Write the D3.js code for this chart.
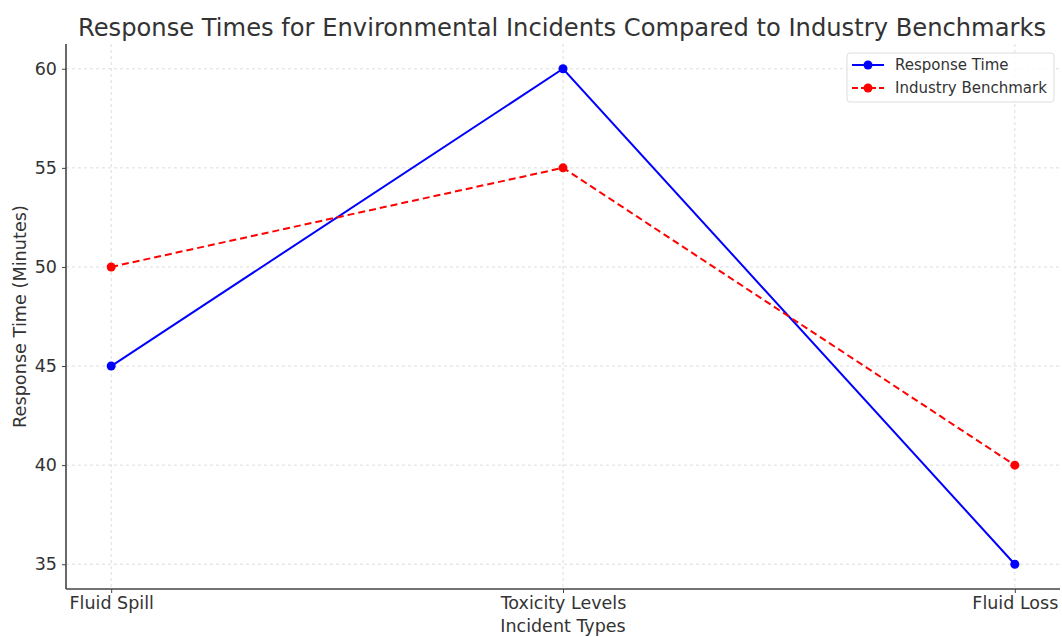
<!DOCTYPE html>
<html>
<head>
<meta charset="utf-8">
<script src="https://cdn.jsdelivr.net/npm/d3@7"></script>
<style>
  body { margin: 0; background: #fff; }
  svg { font-family: "DejaVu Sans", sans-serif; display: block; }
</style>
</head>
<body>
<div id="app"></div>
<script>
`use strict`;

const incidentTypes = [`Fluid Spill`, `Toxicity Levels`, `Fluid Loss`];
const responseTime = [45, 60, 35];
const industryBenchmark = [50, 55, 40];
const yTicks = [35, 40, 45, 50, 55, 60];

const W = 1062, H = 637;
const M = {left: 66, right: 2, top: 44, bottom: 48};

const SVG = d3.select(`#app`).append(`svg`).attr(`width`, W).attr(`height`, H);

const x = d3.scaleLinear().domain([-0.1, 2.1]).range([M.left, W - M.right]);
const y = d3.scaleLinear().domain([33.75, 61.25]).range([H - M.bottom, M.top]);

// grid
const grid = SVG.append(`g`).attr(`stroke`, `#d4d4d4`).attr(`stroke-dasharray`, `3,3`).attr(`stroke-width`, 0.8);
grid.selectAll(`.gy`).data(yTicks).enter().append(`line`)
  .attr(`x1`, M.left).attr(`x2`, W - M.right)
  .attr(`y1`, d => y(d)).attr(`y2`, d => y(d));
grid.selectAll(`.gx`).data(incidentTypes).enter().append(`line`)
  .attr(`x1`, (d, i) => x(i)).attr(`x2`, (d, i) => x(i))
  .attr(`y1`, M.top).attr(`y2`, H - M.bottom);

// axes
const yAxis = SVG.append(`g`).attr(`transform`, `translate(${M.left},0)`)
  .call(d3.axisLeft(y).tickValues(yTicks).tickSize(4).tickPadding(5));
const xAxis = SVG.append(`g`).attr(`transform`, `translate(0,${H - M.bottom})`)
  .call(d3.axisBottom(x).tickValues([0, 1, 2]).tickFormat(i => incidentTypes[i]).tickSize(4).tickPadding(4));

[yAxis, xAxis].forEach(A => {
  A.select(`.domain`).attr(`stroke`, `#444`).attr(`stroke-width`, 1.6);
  A.selectAll(`.tick line`).attr(`stroke`, `#444`);
  A.selectAll(`.tick text`).attr(`fill`, `#333`).style(`font-size`, `17.5px`).style(`font-family`, `"DejaVu Sans", sans-serif`);
});
yAxis.select(`.domain`).attr(`d`, `M0,${M.top}V${H - M.bottom}`);
xAxis.select(`.domain`).attr(`d`, `M${M.left},0H${W - M.right}`);

// titles
SVG.append(`text`).attr(`x`, 562).attr(`y`, 36).attr(`text-anchor`, `middle`)
  .style(`font-size`, `24.2px`).attr(`fill`, `#333`)
  .text(`Response Times for Environmental Incidents Compared to Industry Benchmarks`);
SVG.append(`text`).attr(`x`, 563).attr(`y`, 632).attr(`text-anchor`, `middle`)
  .style(`font-size`, `17.5px`).attr(`fill`, `#333`).text(`Incident Types`);
SVG.append(`text`).attr(`transform`, `translate(26,${(M.top + H - M.bottom) / 2}) rotate(-90)`).attr(`text-anchor`, `middle`)
  .style(`font-size`, `17.7px`).attr(`fill`, `#333`).text(`Response Time (Minutes)`);

// series
const Series = [
  {name: `Response Time`, data: responseTime, color: `#0000ff`, dash: null},
  {name: `Industry Benchmark`, data: industryBenchmark, color: `#ff0000`, dash: `7,4`}
];

const line = d3.line().x((d, i) => x(i)).y(d => y(d));

Series.forEach(S => {
  SVG.append(`path`).datum(S.data).attr(`d`, line)
    .attr(`fill`, `none`).attr(`stroke`, S.color).attr(`stroke-width`, 2)
    .attr(`stroke-dasharray`, S.dash);
  SVG.selectAll(null).data(S.data).enter().append(`circle`)
    .attr(`cx`, (d, i) => x(i)).attr(`cy`, d => y(d)).attr(`r`, 4.5).attr(`fill`, S.color);
});

// legend
const L = SVG.append(`g`).attr(`transform`, `translate(847,53)`);
L.append(`rect`).attr(`width`, 207).attr(`height`, 49).attr(`rx`, 3)
  .attr(`fill`, `#fff`).attr(`fill-opacity`, 0.8).attr(`stroke`, `#ddd`);
Series.forEach((S, i) => {
  const g = L.append(`g`).attr(`transform`, `translate(0,${12 + i * 23})`);
  g.append(`line`).attr(`x1`, 5).attr(`x2`, 37).attr(`stroke`, S.color).attr(`stroke-width`, 2).attr(`stroke-dasharray`, S.dash ? `6,3` : null);
  g.append(`circle`).attr(`cx`, 21).attr(`r`, 4.5).attr(`fill`, S.color);
  g.append(`text`).attr(`x`, 48).attr(`y`, 5).style(`font-size`, `15px`).attr(`fill`, `#333`).text(S.name);
});
</script>
</body>
</html>
